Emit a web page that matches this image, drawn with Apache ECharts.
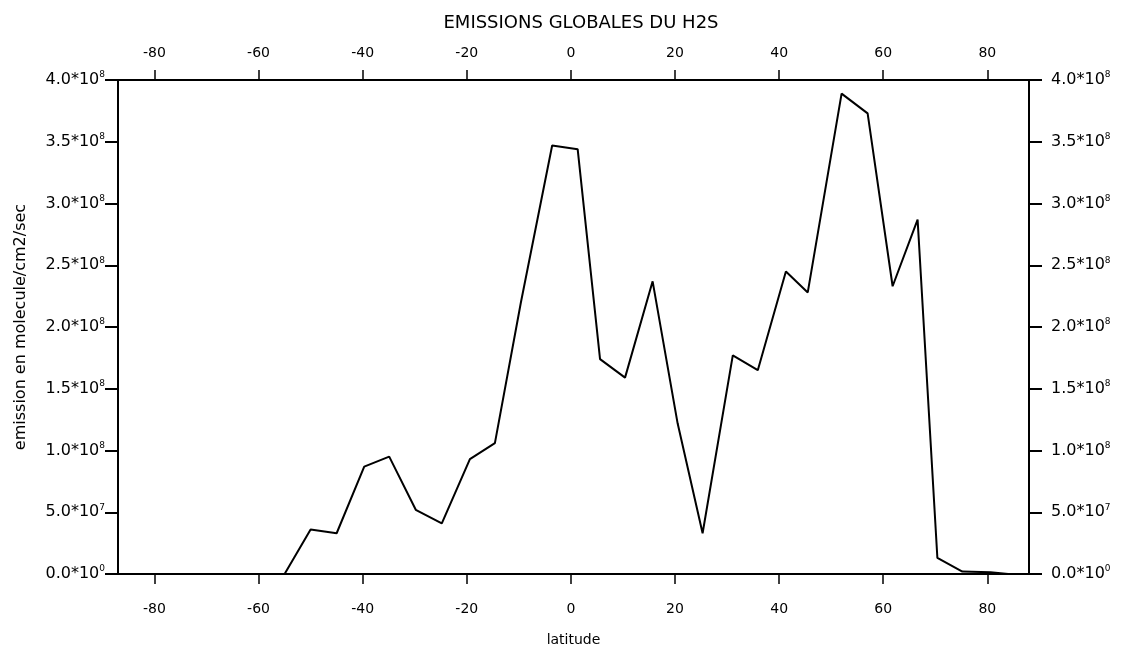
<!DOCTYPE html>
<html>
<head>
<meta charset="utf-8">
<script src="https://cdn.jsdelivr.net/npm/echarts@6/dist/echarts.min.js"></script>
<style>
  html, body { margin: 0; padding: 0; background: #fff; }
  #main { width: 1124px; height: 654px; }
</style>
</head>
<body>
<div id="main"></div>
<script>
// latitude (deg), emission (molecule/cm2/sec)
var latitudes = [-87, -55, -50, -45, -39.7, -34.9, -29.8, -24.8, -19.4, -14.6,
                 -9.6, -3.6, 1.3, 5.6, 10.4, 15.7, 20.5, 25.3, 31.1, 35.9,
                 41.3, 45.5, 52, 57, 61.8, 66.6, 70.4, 75.2, 80.6, 84, 88];
var emissions = [0, 0, 3.6e7, 3.3e7, 8.7e7, 9.5e7, 5.2e7, 4.1e7, 9.3e7, 1.06e8,
                 2.2e8, 3.47e8, 3.44e8, 1.74e8, 1.59e8, 2.37e8, 1.22e8, 3.3e7, 1.77e8, 1.65e8,
                 2.45e8, 2.28e8, 3.89e8, 3.73e8, 2.33e8, 2.87e8, 1.3e7, 2e6, 1.5e6, 0, 0];
var latTicks = [-80, -60, -40, -20, 0, 20, 40, 60, 80];

var myChart = echarts.init(document.getElementById('main'));
var font = 'DejaVu Sans';

var data = [];
for (var i = 0; i < latitudes.length; i++) {
    data.push([latitudes[i], emissions[i]]);
}

// 4.0*10^8 style labels
function sciLabel(v) {
    var m, e;
    if (v === 0) { m = '0.0'; e = '0'; }
    else if (v < 1e8) { m = (v / 1e7).toFixed(1); e = '7'; }
    else { m = (v / 1e8).toFixed(1); e = '8'; }
    return '{m|' + m + '*10}{e|' + e + '}';
}
var sciRich = {
    m: { fontFamily: font, fontSize: 16, color: '#000', lineHeight: 19 },
    e: { fontFamily: font, fontSize: 9, color: '#000', lineHeight: 9, verticalAlign: 'top' }
};

function xAxisCfg(pos, margin) {
    return {
        type: 'value',
        position: pos,
        min: -87,
        max: 88,
        axisLine: { show: true, onZero: false, lineStyle: { color: '#000', width: 2 } },
        axisTick: { show: true, inside: false, length: 10, customValues: latTicks,
                    lineStyle: { color: '#000', width: 1.5 } },
        axisLabel: { customValues: latTicks, margin: margin, color: '#000',
                     fontFamily: font, fontSize: 14 },
        splitLine: { show: false }
    };
}
function yAxisCfg(pos, margin) {
    return {
        type: 'value',
        position: pos,
        min: 0,
        max: 4e8,
        interval: 5e7,
        axisLine: { show: true, onZero: false, lineStyle: { color: '#000', width: 2 } },
        axisTick: { show: true, length: 13, lineStyle: { color: '#000', width: 2 } },
        axisLabel: { formatter: sciLabel, rich: sciRich, margin: margin },
        splitLine: { show: false }
    };
}

var xBottom = xAxisCfg('bottom', 28);
xBottom.name = 'latitude';
xBottom.nameLocation = 'middle';
xBottom.nameGap = 59;
xBottom.nameTextStyle = { color: '#000', fontFamily: font, fontSize: 14 };
var xTop = xAxisCfg('top', 20);

var yLeft = yAxisCfg('left', 13);
yLeft.name = 'emission en molecule/cm2/sec';
yLeft.nameLocation = 'middle';
yLeft.nameGap = 89;
yLeft.nameTextStyle = { color: '#000', fontFamily: font, fontSize: 16 };
var yRight = yAxisCfg('right', 22);

option = {
    backgroundColor: '#fff',
    animation: false,
    title: {
        text: 'EMISSIONS GLOBALES DU H2S',
        left: 576,
        textAlign: 'center',
        top: 9,
        textStyle: { color: '#000', fontFamily: font, fontSize: 18, fontWeight: 'normal' }
    },
    grid: { left: 118, right: 95, top: 80, bottom: 80 },
    xAxis: [xBottom, xTop],
    yAxis: [yLeft, yRight],
    series: [{
        type: 'line',
        xAxisIndex: 0,
        yAxisIndex: 0,
        showSymbol: false,
        lineStyle: { color: '#000', width: 2 },
        data: data
    }]
};

myChart.setOption(option);
</script>
</body>
</html>
